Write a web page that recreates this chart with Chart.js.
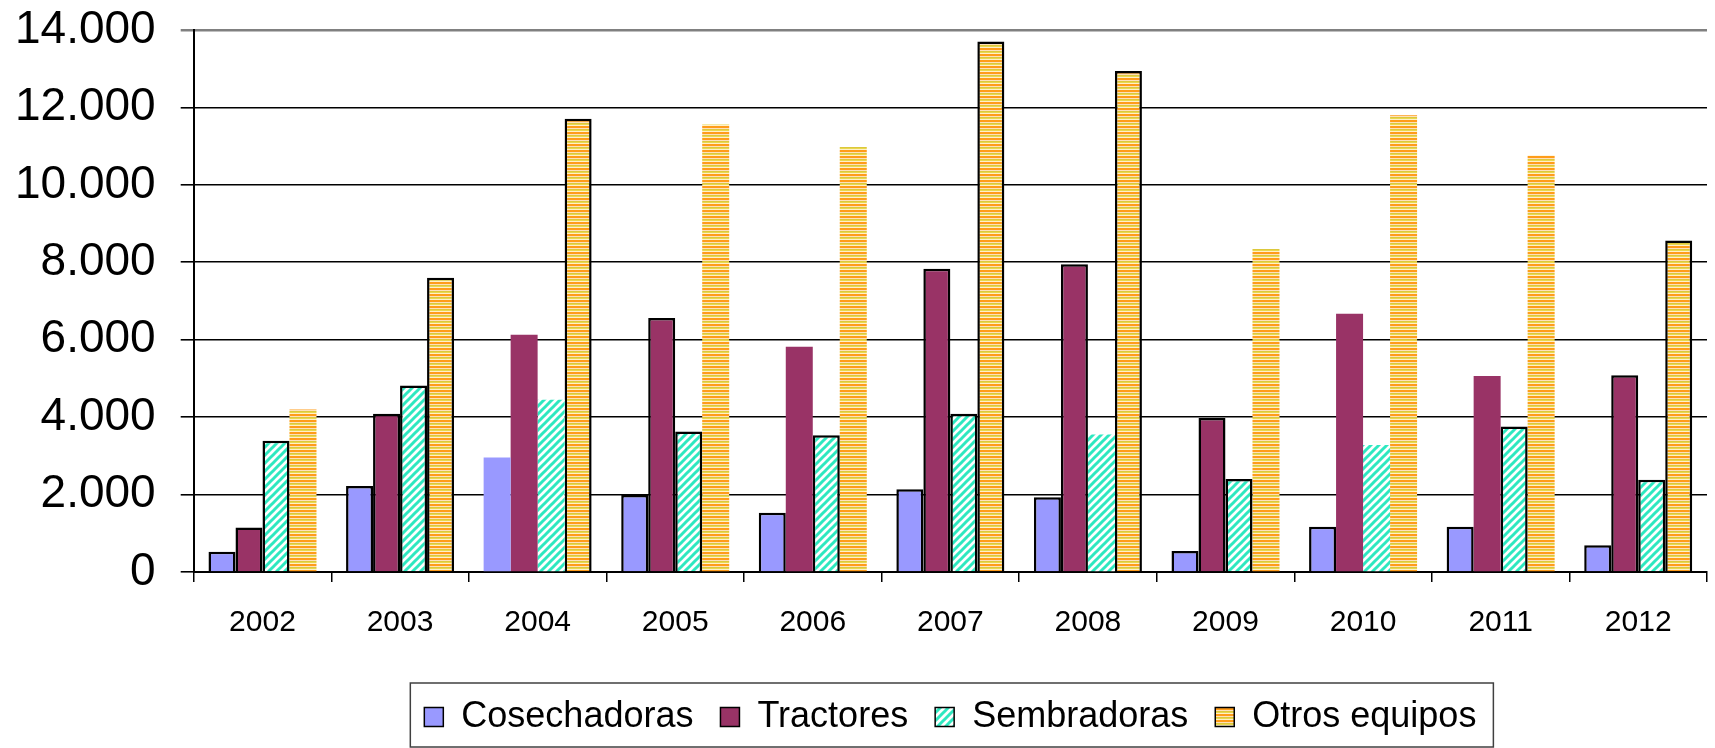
<!DOCTYPE html>
<html>
<head>
<meta charset="utf-8">
<script src="https://cdn.jsdelivr.net/npm/chart.js@4"></script>
<style>
  html, body { margin: 0; padding: 0; background: #fff; }
  canvas { display: block; }
</style>
</head>
<body>
<canvas id="chart" width="1715" height="748"></canvas>
<script>
// data
const years = ['2002', '2003', '2004', '2005', '2006', '2007', '2008', '2009', '2010', '2011', '2012'];
const cosechadoras = [520, 2220, 2960, 1990, 1530, 2140, 1930, 540, 1170, 1170, 690];
const tractores = [1150, 4090, 6130, 6560, 5820, 7830, 7950, 3980, 6670, 5060, 5080];
const sembradoras = [3390, 4820, 4450, 3630, 3530, 4090, 3550, 2400, 3280, 3760, 2380];
const otrosEquipos = [4200, 7600, 11710, 11560, 10980, 13700, 12940, 8340, 11800, 10760, 8560];

// which bars keep their black outline in the original (1 = outlined)
const edgeCos = [1, 1, 0, 1, 1, 1, 1, 1, 1, 1, 1];
const edgeTra = [1, 1, 0, 1, 0, 1, 1, 1, 0, 0, 1];
const edgeSem = [1, 1, 0, 1, 1, 1, 0, 1, 0, 1, 1];
const edgeOtr = [0, 1, 1, 0, 0, 1, 1, 0, 0, 0, 1];

// fill patterns
function hatchPattern() {
    const c = document.createElement('canvas');
    c.width = 8; c.height = 8;
    const g = c.getContext('2d');
    g.fillStyle = '#ffffff';
    g.fillRect(0, 0, 8, 8);
    g.strokeStyle = '#2ee8c0';
    g.lineWidth = 3;
    [[-4, 4, 4, -4], [0, 8, 8, 0], [4, 12, 12, 4]].forEach(l => {
        g.beginPath(); g.moveTo(l[0], l[1]); g.lineTo(l[2], l[3]); g.stroke();
    });
    return g.createPattern(c, 'repeat');
}

function stripePattern() {
    const c = document.createElement('canvas');
    c.width = 4; c.height = 6;
    const g = c.getContext('2d');
    const rows = ['#ff9c1a', '#ff9c1a', '#ffe0b8', '#dcc83c', '#e8d850', '#fff0c8'];
    rows.forEach((col, i) => { g.fillStyle = col; g.fillRect(0, i, 4, 1); });
    return g.createPattern(c, 'repeat');
}

const edge = arr => c => (c.dataIndex === undefined ? 1.5 : (arr[c.dataIndex] ? 2.5 : 0));

// frame round the legend
const legendFrame = {
    id: 'legendFrame',
    afterDraw(chart) {
        const boxes = chart.legend.legendHitBoxes;
        if (!boxes || !boxes.length) return;
        const left = Math.min(...boxes.map(b => b.left));
        const right = Math.max(...boxes.map(b => b.left + b.width));
        const top = Math.min(...boxes.map(b => b.top));
        const bottom = Math.max(...boxes.map(b => b.top + b.height));
        const ctx = chart.ctx;
        ctx.save();
        ctx.strokeStyle = '#404040';
        ctx.lineWidth = 1.5;
        ctx.strokeRect(left - 14, top - 16, right - left + 31, bottom - top + 28);
        ctx.restore();
    }
};

const whiteBg = {
    id: 'whiteBg',
    beforeDraw(chart) {
        const ctx = chart.ctx;
        ctx.save();
        ctx.fillStyle = '#fff';
        ctx.fillRect(0, 0, chart.width, chart.height);
        ctx.restore();
    }
};

new Chart(document.getElementById('chart'), {
    type: 'bar',
    data: {
        labels: years,
        datasets: [
            { label: 'Cosechadoras', data: cosechadoras, backgroundColor: '#9999ff', borderColor: '#000', borderWidth: edge(edgeCos) },
            { label: 'Tractores', data: tractores, backgroundColor: '#993366', borderColor: '#000', borderWidth: edge(edgeTra) },
            { label: 'Sembradoras', data: sembradoras, backgroundColor: hatchPattern(), borderColor: '#000', borderWidth: edge(edgeSem) },
            { label: 'Otros equipos', data: otrosEquipos, backgroundColor: stripePattern(), borderColor: '#000', borderWidth: edge(edgeOtr) }
        ]
    },
    options: {
        responsive: false,
        animation: false,
        devicePixelRatio: 1,
        categoryPercentage: 0.785,
        barPercentage: 1,
        layout: { padding: { left: -10, right: 8, top: 0, bottom: 3 } },
        plugins: {
            tooltip: { enabled: false },
            legend: {
                position: 'bottom',
                fullSize: false,
                labels: {
                    font: { family: 'Liberation Sans, Arial, sans-serif', size: 36 },
                    color: '#000',
                    boxWidth: 19,
                    boxHeight: 19,
                    padding: 27,
                    generateLabels(chart) {
                        return chart.data.datasets.map((ds, i) => ({
                            text: ds.label,
                            fillStyle: ds.backgroundColor,
                            strokeStyle: '#000',
                            lineWidth: 1.5,
                            datasetIndex: i,
                            hidden: false
                        }));
                    }
                }
            }
        },
        scales: {
            x: {
                grid: { drawOnChartArea: false, color: '#000', tickLength: 10, lineWidth: 1.5 },
                border: { color: '#000', width: 2 },
                ticks: { color: '#000', padding: 23, font: { family: 'Liberation Sans, Arial, sans-serif', size: 30 } },
                afterFit: s => { s.height += 8; }
            },
            y: {
                min: 0,
                max: 14000,
                grid: {
                    color: c => (c.tick && c.tick.value === 14000 ? '#808080' : '#000'),
                    lineWidth: c => (c.tick && c.tick.value === 14000 ? 2.5 : 1.6),
                    tickLength: 13
                },
                border: { color: '#000', width: 2 },
                ticks: {
                    stepSize: 2000,
                    color: '#000',
                    padding: 25,
                    font: { family: 'Liberation Sans, Arial, sans-serif', size: 46 },
                    callback: v => (v === 0 ? '0' : (v / 1000) + '.000')
                },
                afterFit: s => { s.paddingTop = 30; s.paddingBottom = 0; }
            }
        }
    },
    plugins: [whiteBg, legendFrame]
});
</script>
</body>
</html>
